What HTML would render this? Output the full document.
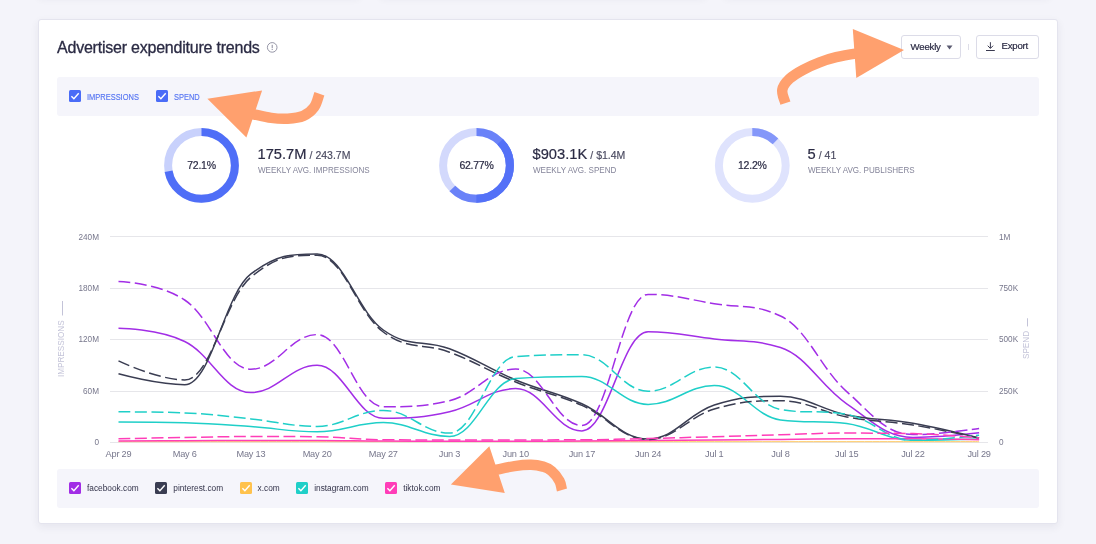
<!DOCTYPE html>
<html lang="en">
<head>
<meta charset="utf-8">
<title>Advertiser expenditure trends</title>
<style>
*{box-sizing:border-box;margin:0;padding:0}
html,body{width:1096px;height:544px;overflow:hidden;background:#f4f4fa;font-family:"Liberation Sans",sans-serif;color:#2b2b44}
.abs{position:absolute}
.topcard{position:absolute;top:-25px;height:20px;background:#fff;border-radius:3px;box-shadow:0 3px 8px rgba(40,40,70,.07)}
.card{position:absolute;left:38px;top:19px;width:1020px;height:505px;background:#fff;border:1px solid #e4e4ee;border-radius:3px;box-shadow:0 3px 8px rgba(40,40,70,.07)}
.title{position:absolute;left:57px;top:39px;font-size:16px;line-height:18px;color:#2b2b44;white-space:nowrap;letter-spacing:-.22px;-webkit-text-stroke:.3px #2b2b44}
.panel{position:absolute;left:57px;width:982px;height:38.5px;background:#f5f5fb;border-radius:3px}
.btn{position:absolute;top:35px;height:24px;border:1px solid #dcdce8;border-radius:3px;background:#fff;font-size:9.6px;letter-spacing:-.2px;line-height:22px;color:#2b2b44;white-space:nowrap}
.cb{position:absolute;width:12px;height:12px;border-radius:1.5px}
.cb svg{position:absolute;left:0;top:0}
.lbl{position:absolute;font-size:8.3px;line-height:12px;white-space:nowrap}
.lbl.u{font-size:9px;transform-origin:0 50%;transform:scaleX(.83);-webkit-text-stroke:.15px #5675f2}
.pct,.big,.btn{-webkit-text-stroke:.2px #2b2b44}
.big small{-webkit-text-stroke:.15px #4a4a60}
.pct{position:absolute;width:80px;text-align:center;font-size:10.5px;letter-spacing:-.25px;line-height:14px;top:158px;color:#2b2b44}
.big{position:absolute;top:145px;font-size:14.7px;line-height:18px;white-space:nowrap;color:#2b2b44}
.big small{font-size:10.5px;letter-spacing:0;color:#4a4a60;margin-left:-1px}
.sub{position:absolute;top:164.500px;font-size:8.8px;line-height:11px;color:#85859a;white-space:nowrap;transform-origin:0 50%;transform:scaleX(.917)}
.yl{position:absolute;font-size:8.2px;line-height:10px;color:#77778c;white-space:nowrap}
.yl.l{width:40px;left:59px;text-align:right}
.yl.r{left:999px}
.xl{position:absolute;top:448px;width:60px;text-align:center;font-size:9.2px;letter-spacing:-.2px;line-height:12px;color:#77778c;white-space:nowrap}
.rot{position:absolute;font-size:9px;line-height:10px;color:#c3c3d8;white-space:nowrap;transform-origin:0 0;transform:rotate(-90deg) scaleX(.905)}
.rot span{display:inline-block;height:1.200px;background:#c3c3d8;vertical-align:1px;margin-left:5px}
</style>
</head>
<body>
<div class="topcard" style="left:38px;width:322px"></div>
<div class="topcard" style="left:380px;width:326px"></div>
<div class="topcard" style="left:724px;width:326px"></div>
<div class="card"></div>

<div class="title">Advertiser expenditure trends</div>
<svg class="abs" style="left:266px;top:41px" width="13" height="13" viewBox="0 0 13 13"><circle cx="6.2" cy="6.4" r="4.800" fill="none" stroke="#8a8a9c" stroke-width=".900"/><rect x="5.7" y="3.8" width="1" height="3.4" fill="#8a8a9c"/><rect x="5.7" y="8" width="1" height="1" fill="#8a8a9c"/></svg>

<div class="btn" style="left:901px;width:60px;padding-left:8.600px">Weekly</div>
<svg class="abs" style="left:945px;top:44px" width="10" height="8" viewBox="0 0 10 8"><path d="M1.600 1.400h5.900L4.550 5.500z" fill="#5a5a70"/></svg>
<div class="abs" style="left:968px;top:44px;width:1px;height:6px;background:#dedee8"></div>
<div class="btn" style="left:976px;width:63px;padding-left:24.500px;line-height:20.500px">Export</div>
<svg class="abs" style="left:984px;top:40px" width="13" height="13" viewBox="0 0 13 13"><path d="M6.400 2.200v6M3.700 5.700l2.700 2.700L9.100 5.700M2 10.500h8.800" fill="none" stroke="#3a3a50" stroke-width="1"/></svg>

<div class="panel" style="top:77px"></div>
<div class="cb" style="left:69px;top:90px;background:#4a6cf7"><svg width="12" height="12" viewBox="0 0 12 12"><path d="M2.400 6.200l2.500 2.500 4.800-5.400" fill="none" stroke="#fff" stroke-width="1.400"/></svg></div>
<div class="lbl u" style="left:87px;top:90.500px;color:#5675f2">IMPRESSIONS</div>
<div class="cb" style="left:156px;top:90px;background:#4a6cf7"><svg width="12" height="12" viewBox="0 0 12 12"><path d="M2.400 6.200l2.500 2.500 4.800-5.400" fill="none" stroke="#fff" stroke-width="1.400"/></svg></div>
<div class="lbl u" style="left:173.600px;top:90.500px;color:#5675f2">SPEND</div>

<!-- donuts -->
<svg class="abs" style="left:0;top:0" width="1096" height="544" viewBox="0 0 1096 544">
<g fill="none" stroke-width="8">
<circle cx="201.500" cy="165.400" r="33.400" stroke="#c8d1fc"/>
<circle cx="201.500" cy="165.400" r="33.400" stroke="#4f6ef7" stroke-dasharray="151.300 300" transform="rotate(-90 201.500 165.400)"/>
<circle cx="476.500" cy="165.400" r="33.400" stroke="#d3d9fc"/>
<circle cx="476.500" cy="165.400" r="33.400" stroke="#6a82f8" stroke-dasharray="131.700 300" transform="rotate(-90 476.500 165.400)"/>
<circle cx="476.500" cy="165.400" r="33.400" stroke="#5471f7" stroke-dasharray="78.700 300" transform="rotate(-45 476.500 165.400)"/>
<circle cx="752.300" cy="165.400" r="33.400" stroke="#dfe3fd"/>
<circle cx="752.300" cy="165.400" r="33.400" stroke="#8497f9" stroke-dasharray="25.600 300" transform="rotate(-90 752.300 165.400)"/>
</g>
</svg>
<div class="pct" style="left:161.500px">72.1%</div>
<div class="pct" style="left:436.500px">62.77%</div>
<div class="pct" style="left:712.300px">12.2%</div>
<div class="big" style="left:257.500px">175.7M <small>/ 243.7M</small></div>
<div class="sub" style="left:257.500px">WEEKLY AVG. IMPRESSIONS</div>
<div class="big" style="left:532.500px">$903.1K <small>/ $1.4M</small></div>
<div class="sub" style="left:532.500px">WEEKLY AVG. SPEND</div>
<div class="big" style="left:807.500px">5 <small>/ 41</small></div>
<div class="sub" style="left:807.500px">WEEKLY AVG. PUBLISHERS</div>

<!-- chart -->
<svg class="abs" style="left:0;top:0" width="1096" height="544" viewBox="0 0 1096 544">
<g stroke="#e6e6ea" stroke-width="1">
<path d="M110 236.500H988M110 288.500H988M110 339.500H988M110 391.500H988M110 442.500H988"/>
</g>
<g fill="none" stroke-width="1.500" stroke-linejoin="round">
<path d="M 118.50 441.70 C 118.50 441.70 158.22 441.70 184.70 441.70 C 211.18 441.70 224.42 441.70 250.90 441.70 C 277.38 441.70 290.62 441.70 317.10 441.70 C 343.58 441.70 356.82 441.70 383.30 441.70 C 409.78 441.70 423.02 441.70 449.50 441.70 C 475.98 441.70 489.22 441.70 515.70 441.70 C 542.18 441.70 555.42 441.70 581.90 441.70 C 608.38 441.70 621.62 441.70 648.10 441.70 C 674.58 441.70 687.82 441.70 714.30 441.70 C 740.78 441.70 754.02 441.70 780.50 441.70 C 806.98 441.70 820.22 441.70 846.70 441.70 C 873.18 441.70 886.42 441.70 912.90 441.70 C 939.38 441.70 979.10 441.70 979.10 441.70" stroke="#ffc24d" stroke-width=".900"/>
<path d="M 118.50 328.30 C 118.50 328.30 158.22 328.64 184.70 341.50 C 211.18 354.36 224.42 392.60 250.90 392.60 C 277.38 392.60 290.62 365.30 317.10 365.30 C 343.58 365.30 356.82 418.30 383.30 418.30 C 409.78 418.30 423.02 417.74 449.50 411.80 C 475.98 405.86 489.22 388.60 515.70 388.60 C 542.18 388.60 555.42 430.90 581.90 430.90 C 608.38 430.90 621.62 331.80 648.10 331.80 C 674.58 331.80 687.82 335.86 714.30 339.00 C 740.78 342.14 754.02 339.00 780.50 347.50 C 806.98 356.00 820.22 385.82 846.70 403.80 C 873.18 421.78 886.42 437.40 912.90 437.40 C 939.38 437.40 979.10 432.80 979.10 432.80" stroke="#a22ee6"/>
<path d="M 118.50 373.80 C 118.50 373.80 158.22 384.70 184.70 384.70 C 211.18 384.70 224.42 293.80 250.90 273.90 C 277.38 254.00 290.62 254.00 317.10 254.00 C 343.58 254.00 356.82 311.20 383.30 330.00 C 409.78 348.80 423.02 338.80 449.50 348.80 C 475.98 358.80 489.22 369.00 515.70 380.00 C 542.18 391.00 555.42 391.98 581.90 403.80 C 608.38 415.62 621.62 439.10 648.10 439.10 C 674.58 439.10 687.82 413.56 714.30 405.00 C 740.78 396.44 754.02 396.30 780.50 396.30 C 806.98 396.30 820.22 409.52 846.70 414.90 C 873.18 420.28 886.42 418.58 912.90 423.20 C 939.38 427.82 979.10 438.00 979.10 438.00" stroke="#3a3d52"/>
<path d="M 118.50 422.00 C 118.50 422.00 158.22 422.00 184.70 422.80 C 211.18 423.60 224.42 424.80 250.90 426.60 C 277.38 428.40 290.62 431.80 317.10 431.80 C 343.58 431.80 356.82 422.60 383.30 422.60 C 409.78 422.60 423.02 436.50 449.50 436.50 C 475.98 436.50 489.22 380.50 515.70 378.50 C 542.18 376.50 555.42 376.50 581.90 376.50 C 608.38 376.50 621.62 404.40 648.10 404.40 C 674.58 404.40 687.82 385.60 714.30 385.60 C 740.78 385.60 754.02 416.40 780.50 419.90 C 806.98 423.40 820.22 419.90 846.70 423.40 C 873.18 426.90 886.42 440.30 912.90 440.30 C 939.38 440.30 979.10 439.00 979.10 439.00" stroke="#1fcfc8"/>
<path d="M 118.50 440.90 C 118.50 440.90 158.22 440.78 184.70 440.70 C 211.18 440.62 224.42 440.50 250.90 440.50 C 277.38 440.50 290.62 440.50 317.10 440.50 C 343.58 440.50 356.82 441.00 383.30 441.10 C 409.78 441.20 423.02 441.20 449.50 441.20 C 475.98 441.20 489.22 441.20 515.70 441.20 C 542.18 441.20 555.42 441.20 581.90 441.10 C 608.38 441.00 621.62 440.70 648.10 440.50 C 674.58 440.30 687.82 440.32 714.30 440.10 C 740.78 439.88 754.02 439.66 780.50 439.40 C 806.98 439.14 820.22 438.90 846.70 438.80 C 873.18 438.70 886.42 438.70 912.90 438.70 C 939.38 438.70 979.10 439.70 979.10 439.70" stroke="#ff3db8"/>
<path d="M 118.50 281.60 C 118.50 281.60 158.22 282.46 184.70 300.00 C 211.18 317.54 224.42 369.30 250.90 369.30 C 277.38 369.30 290.62 334.60 317.10 334.60 C 343.58 334.60 356.82 406.80 383.30 406.80 C 409.78 406.80 423.02 406.80 449.50 400.70 C 475.98 394.60 489.22 369.00 515.70 369.00 C 542.18 369.00 555.42 425.60 581.90 425.60 C 608.38 425.60 621.62 294.40 648.10 294.40 C 674.58 294.40 687.82 299.38 714.30 303.70 C 740.78 308.02 754.02 303.70 780.50 316.00 C 806.98 328.30 820.22 367.88 846.70 391.60 C 873.18 415.32 886.42 434.60 912.90 434.60 C 939.38 434.60 979.10 428.40 979.10 428.40" stroke="#a22ee6" stroke-dasharray="12 4.5"/>
<path d="M 118.50 360.90 C 118.50 360.90 158.22 379.90 184.70 379.90 C 211.18 379.90 224.42 299.10 250.90 277.20 C 277.38 255.30 290.62 255.30 317.10 255.30 C 343.58 255.30 356.82 312.62 383.30 332.00 C 409.78 351.38 423.02 342.20 449.50 352.20 C 475.98 362.20 489.22 371.36 515.70 382.00 C 542.18 392.64 555.42 393.90 581.90 405.40 C 608.38 416.90 621.62 439.50 648.10 439.50 C 674.58 439.50 687.82 416.76 714.30 409.00 C 740.78 401.24 754.02 400.70 780.50 400.70 C 806.98 400.70 820.22 412.04 846.70 416.90 C 873.18 421.76 886.42 420.78 912.90 425.00 C 939.38 429.22 979.10 438.00 979.10 438.00" stroke="#3a3d52" stroke-dasharray="12 4.5"/>
<path d="M 118.50 411.80 C 118.50 411.80 158.22 411.80 184.70 412.90 C 211.18 414.00 224.42 416.20 250.90 418.90 C 277.38 421.60 290.62 426.40 317.10 426.40 C 343.58 426.40 356.82 410.40 383.30 410.40 C 409.78 410.40 423.02 433.10 449.50 433.10 C 475.98 433.10 489.22 358.20 515.70 356.50 C 542.18 354.80 555.42 354.80 581.90 354.80 C 608.38 354.80 621.62 391.20 648.10 391.20 C 674.58 391.20 687.82 367.00 714.30 367.00 C 740.78 367.00 754.02 404.50 780.50 409.40 C 806.98 414.30 820.22 409.40 846.70 414.30 C 873.18 419.20 886.42 440.30 912.90 440.30 C 939.38 440.30 979.10 435.20 979.10 435.20" stroke="#1fcfc8" stroke-dasharray="12 4.5"/>
<path d="M 118.50 438.70 C 118.50 438.70 158.22 437.94 184.70 437.50 C 211.18 437.06 224.42 436.50 250.90 436.50 C 277.38 436.50 290.62 436.50 317.10 436.70 C 343.58 436.90 356.82 439.70 383.30 439.80 C 409.78 439.90 423.02 439.90 449.50 439.90 C 475.98 439.90 489.22 439.90 515.70 439.90 C 542.18 439.90 555.42 439.90 581.90 439.80 C 608.38 439.70 621.62 439.12 648.10 438.50 C 674.58 437.88 687.82 437.46 714.30 436.70 C 740.78 435.94 754.02 435.42 780.50 434.70 C 806.98 433.98 820.22 433.10 846.70 433.10 C 873.18 433.10 886.42 433.10 912.90 433.60 C 939.38 434.10 979.10 438.00 979.10 438.00" stroke="#ff3db8" stroke-dasharray="12 4.5"/>
</g>
</svg>
<div class="yl l" style="top:232.800px">240M</div>
<div class="yl l" style="top:284px">180M</div>
<div class="yl l" style="top:335px">120M</div>
<div class="yl l" style="top:387px">60M</div>
<div class="yl l" style="top:438px">0</div>
<div class="yl r" style="top:232.800px">1M</div>
<div class="yl r" style="top:284px">750K</div>
<div class="yl r" style="top:335px">500K</div>
<div class="yl r" style="top:387px">250K</div>
<div class="yl r" style="top:438px">0</div>
<div class="rot" style="left:56px;top:376.500px">IMPRESSIONS<span style="width:16.300px"></span></div>
<div class="rot" style="left:1021px;top:359px">SPEND<span style="width:8.600px"></span></div>

<div class="xl" style="left:88.5px">Apr 29</div>
<div class="xl" style="left:154.7px">May 6</div>
<div class="xl" style="left:220.9px">May 13</div>
<div class="xl" style="left:287.1px">May 20</div>
<div class="xl" style="left:353.3px">May 27</div>
<div class="xl" style="left:419.5px">Jun 3</div>
<div class="xl" style="left:485.7px">Jun 10</div>
<div class="xl" style="left:551.9px">Jun 17</div>
<div class="xl" style="left:618.1px">Jun 24</div>
<div class="xl" style="left:684.3px">Jul 1</div>
<div class="xl" style="left:750.5px">Jul 8</div>
<div class="xl" style="left:816.7px">Jul 15</div>
<div class="xl" style="left:882.9px">Jul 22</div>
<div class="xl" style="left:949.1px">Jul 29</div>

<div class="panel" style="top:469px"></div>
<div class="cb" style="left:69px;top:482px;background:#a22ee6"><svg width="12" height="12" viewBox="0 0 12 12"><path d="M2.400 6.200l2.500 2.500 4.800-5.400" fill="none" stroke="#fff" stroke-width="1.400"/></svg></div>
<div class="lbl" style="left:87px;top:481.700px;color:#33334a">facebook.com</div>
<div class="cb" style="left:155px;top:482px;background:#3a3d52"><svg width="12" height="12" viewBox="0 0 12 12"><path d="M2.400 6.200l2.500 2.500 4.800-5.400" fill="none" stroke="#fff" stroke-width="1.400"/></svg></div>
<div class="lbl" style="left:173.3px;top:481.700px;color:#33334a">pinterest.com</div>
<div class="cb" style="left:240px;top:482px;background:#ffc24d"><svg width="12" height="12" viewBox="0 0 12 12"><path d="M2.400 6.200l2.500 2.500 4.800-5.400" fill="none" stroke="#fff" stroke-width="1.400"/></svg></div>
<div class="lbl" style="left:257.6px;top:481.700px;color:#33334a">x.com</div>
<div class="cb" style="left:296px;top:482px;background:#1fcfc8"><svg width="12" height="12" viewBox="0 0 12 12"><path d="M2.400 6.200l2.500 2.500 4.800-5.400" fill="none" stroke="#fff" stroke-width="1.400"/></svg></div>
<div class="lbl" style="left:314.2px;top:481.700px;color:#33334a">instagram.com</div>
<div class="cb" style="left:385px;top:482px;background:#ff3db8"><svg width="12" height="12" viewBox="0 0 12 12"><path d="M2.400 6.200l2.500 2.500 4.800-5.400" fill="none" stroke="#fff" stroke-width="1.400"/></svg></div>
<div class="lbl" style="left:403.2px;top:481.700px;color:#33334a">tiktok.com</div>

<!-- arrows -->
<svg class="abs" style="left:0;top:0" width="1096" height="544" viewBox="0 0 1096 544">
<g fill="#ffa06e" stroke="none">
<path d="M904 50L852.800 28.900L856.300 77.900Z"/>
<path d="M207.400 98.800L262.100 90.400L246.400 137.500Z"/>
<path d="M450.900 484.600L489.300 446.200L504.800 492.900Z"/>
</g>
<g fill="none" stroke="#ffa06e" stroke-width="10.500">
<path d="M857.0 53.4C850.5 54.4 842.4 55.7 836.2 57.2C830.0 58.7 825.1 60.2 819.6 62.3C814.1 64.4 808.1 67.0 803.1 69.8C798.1 72.5 793.0 75.5 789.5 78.8C786.0 82.1 783.0 85.8 782.3 89.8C781.6 93.8 784.0 98.6 785.4 103.1"/>
<path d="M252.5 114.0C258.5 115.3 265.3 117.1 271.2 117.9C277.1 118.7 282.3 119.0 287.7 118.7C293.1 118.4 299.0 117.8 303.4 115.9C307.8 114.0 311.5 110.9 314.2 107.2C316.9 103.5 317.8 98.2 319.4 93.7"/>
<path d="M495.0 470.0C501.2 468.7 508.5 467.0 514.5 466.1C520.5 465.2 526.2 464.7 531.0 464.8C535.8 464.9 539.5 465.6 543.0 466.6C546.5 467.7 549.0 468.7 551.7 471.1C554.5 473.5 557.8 477.8 559.5 481.0C561.2 484.2 561.1 487.1 562.0 490.1"/>
</g>
</svg>
</body>
</html>
